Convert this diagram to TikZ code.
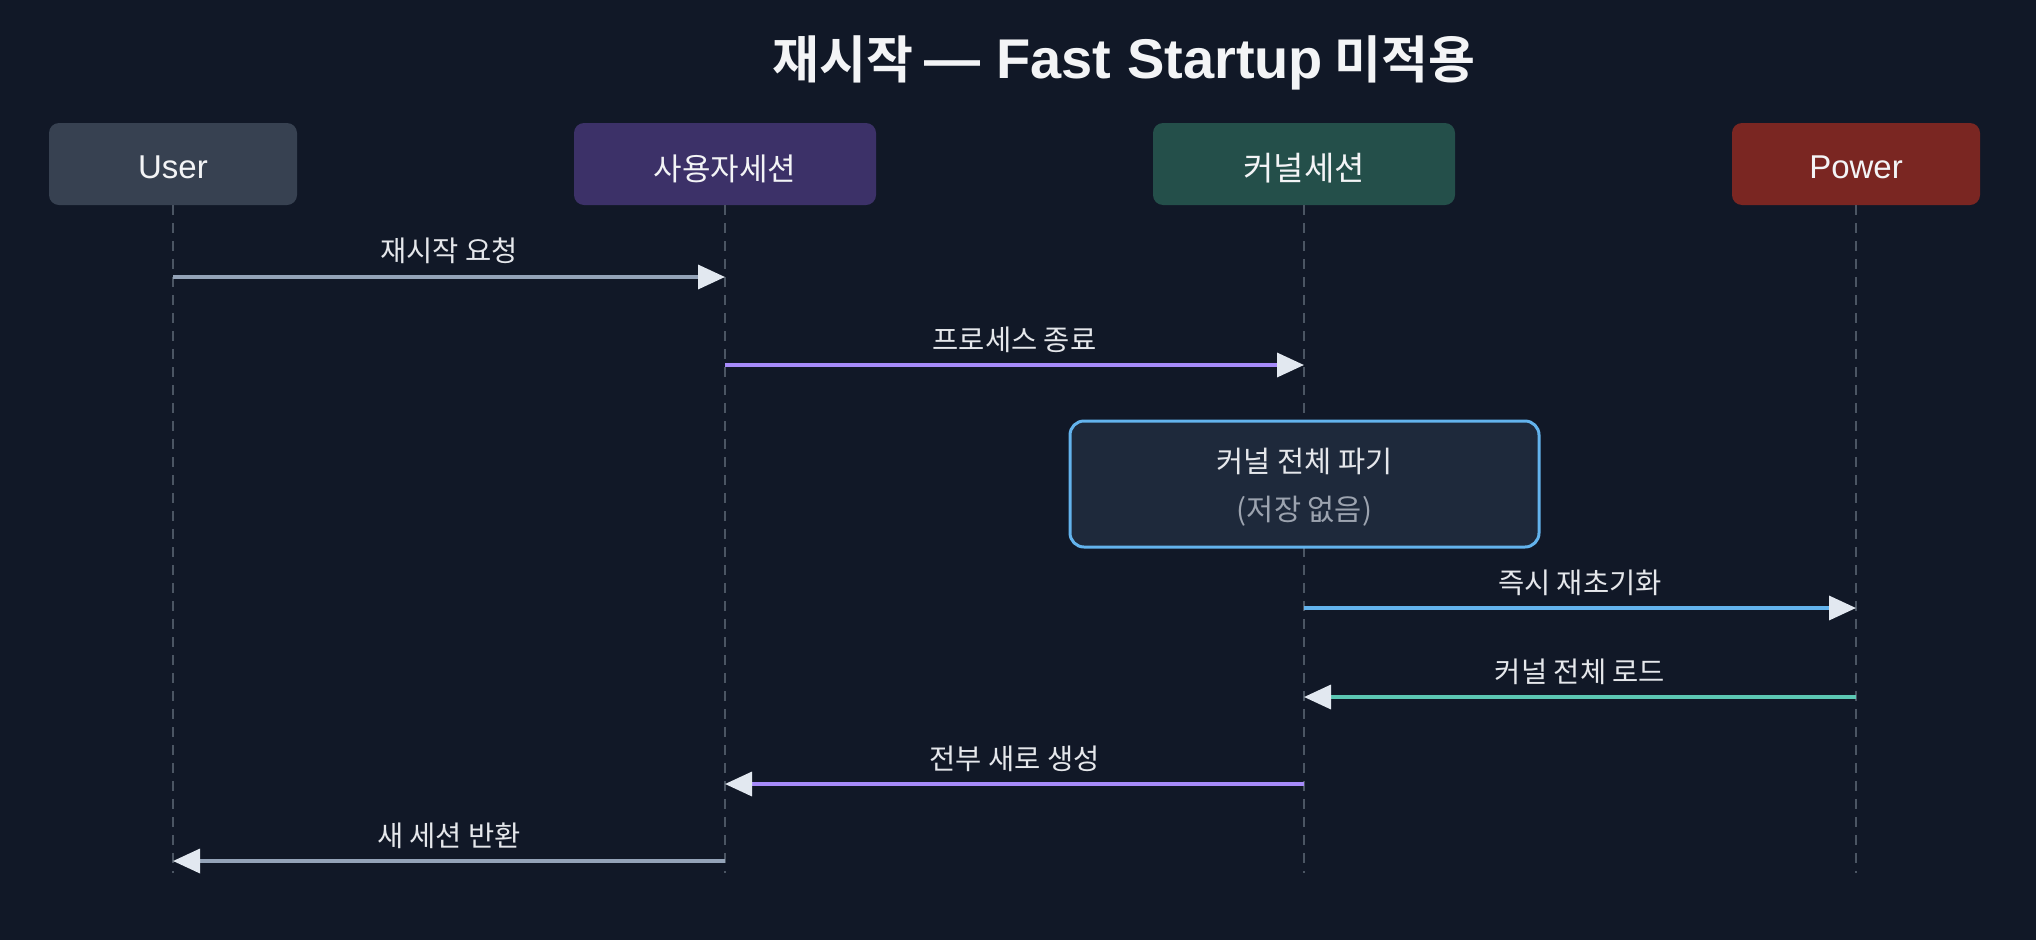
\documentclass[tikz,border=0pt]{standalone}
\usepackage{fontspec}
\setmainfont{Noto Sans CJK KR}[BoldFont={Noto Sans CJK KR Bold}]
\newfontfamily\lat{Liberation Sans}
\usetikzlibrary{arrows.meta}
\definecolor{bg}{HTML}{111827}
\definecolor{cuser}{HTML}{374151}
\definecolor{csess}{HTML}{3C3168}
\definecolor{ckern}{HTML}{244F4A}
\definecolor{cpow}{HTML}{7A2622}
\definecolor{lifec}{HTML}{4B5563}
\definecolor{cgray}{HTML}{94A3B8}
\definecolor{cpurp}{HTML}{A78BFA}
\definecolor{cblue}{HTML}{63B3ED}
\definecolor{cteal}{HTML}{5CC8B4}
\definecolor{tipc}{HTML}{E2E8F0}
\definecolor{txt}{HTML}{E5E7EB}
\definecolor{txtw}{HTML}{F3F4F6}
\definecolor{notefill}{HTML}{1E293B}
\definecolor{notegray}{HTML}{9CA3AF}
\tikzset{
  actor/.style={rounded corners=10pt, minimum height=82pt, inner sep=0pt, text=txtw, text height=32pt, text depth=0pt, font=\fontsize{31}{36}\selectfont},
  latactor/.style={actor, text height=29pt},
  lifeline/.style={lifec, line width=2pt, dash pattern=on 10pt off 8pt},
  msg/.style={line width=3.5pt, -{Triangle[length=27pt,width=24pt,color=tipc,fill=tipc]}},
  lbl/.style={text=txt, font=\fontsize{28.5}{32}\selectfont, inner sep=0pt},
}
\begin{document}
\begin{tikzpicture}[x=1pt,y=-1pt]
\fill[bg] (0,0) rectangle (2036,940);
\useasboundingbox (0,0) rectangle (2036,940);
% title
\node[text=txtw, inner sep=0pt] (title) at (1124,63) {\fontsize{51}{60}\bfseries 재시작 {\lat\fontsize{56}{60}\selectfont\bfseries — Fast Startup} 미적용};
% actors
\node[latactor, fill=cuser, minimum width=248pt] (user) at (173,164) {\lat\fontsize{33}{36}\selectfont User};
\node[actor, fill=csess, minimum width=302pt] (sess) at (725,164) {사용자세션};
\node[actor, fill=ckern, minimum width=302pt] (kern) at (1304,164) {\fontsize{33}{36}\selectfont 커널세션};
\node[latactor, fill=cpow, minimum width=248pt] (pow) at (1856,164) {\lat\fontsize{33}{36}\selectfont Power};
% lifelines
\coordinate (bot) at (0,873);
\draw[lifeline] (user.south) -- (user |- bot);
\draw[lifeline] (sess.south) -- (sess |- bot);
\draw[lifeline] (kern.south) -- (kern |- bot);
\draw[lifeline] (pow.south) -- (pow |- bot);
% note
\node[draw=cblue, line width=3pt, fill=notefill, rounded corners=14pt, minimum width=469pt, minimum height=126pt, inner sep=0pt] (note) at (1304.5,484) {};
\node[lbl, font=\fontsize{29.5}{33}\selectfont] (n1) at (1304.5,461) {커널 전체 파기};
\node[lbl, font=\fontsize{29.5}{33}\selectfont, text=notegray] (n2) at (1304.5,511) {(저장 없음)};
% messages
\draw[msg, cgray] (user |- 0,277) -- (sess |- 0,277) node[lbl, midway, yshift=26pt] (l1) {재시작 요청};
\draw[msg, cpurp] (sess |- 0,365) -- (kern |- 0,365) node[lbl, midway, yshift=25pt] (l2) {프로세스 종료};
\draw[msg, cblue] (kern |- 0,608) -- (pow |- 0,608) node[lbl, midway, yshift=25pt] (l3) {즉시 재초기화};
\draw[msg, cteal] (pow |- 0,697) -- (kern |- 0,697) node[lbl, midway, yshift=25pt] (l4) {커널 전체 로드};
\draw[msg, cpurp] (kern |- 0,784) -- (sess |- 0,784) node[lbl, midway, yshift=25pt] (l5) {전부 새로 생성};
\draw[msg, cgray] (sess |- 0,861) -- (user |- 0,861) node[lbl, midway, yshift=25pt] (l6) {새 세션 반환};
\end{tikzpicture}
\end{document}
